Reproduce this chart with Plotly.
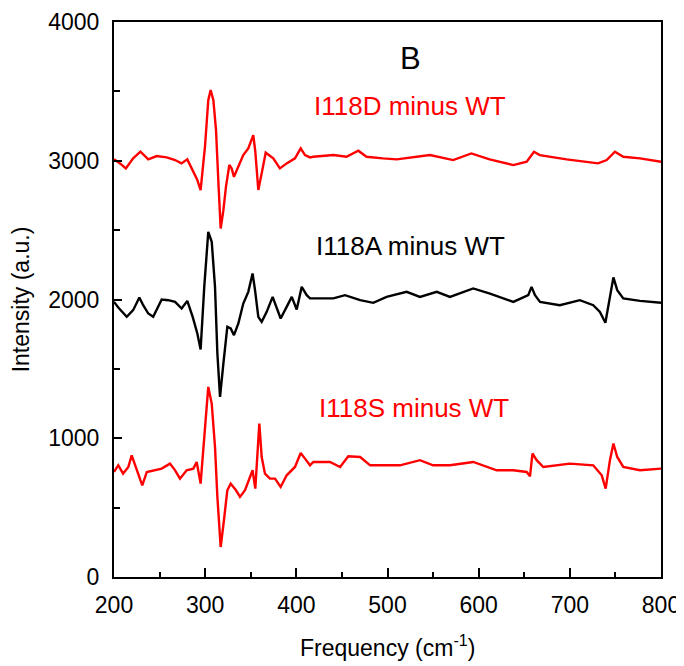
import plotly.graph_objects as go

# I118D minus WT (red, top)
freq_d = [200, 206.6, 213, 221, 229, 237.6, 246.8, 257.8, 267, 274, 280.4, 286, 291.4, 295,
          299.8, 303.4, 306, 309, 311.9, 314.4, 317, 320, 322.8, 326.5, 329, 331.6, 336.4,
          341.8, 347.3, 352.8, 355, 358.3, 362, 366.4, 374.7, 382, 389.4, 398.5, 404.8, 409.5,
          415, 418.6, 440.6, 455, 468, 477, 495, 510, 546.6, 572, 592, 612, 638, 652.7, 660.7,
          667, 696.5, 731, 740.4, 749.5, 758.6, 777, 800]
int_d = [3010, 2981, 2945, 3017, 3065, 3010, 3034, 3024, 3005, 2981, 3010, 2933, 2861, 2789,
         3101, 3437, 3510, 3437, 3221, 2861, 2512, 2644, 2812, 2969, 2945, 2884, 2957,
         3041, 3089, 3185, 3065, 2789, 2909, 3058, 3017, 2945, 2981, 3017, 3089, 3041,
         3024, 3029, 3041, 3029, 3072, 3029, 3017, 3010, 3041, 3005, 3053, 3010, 2969, 2993, 3065,
         3041, 3010, 2981, 3005, 3065, 3029, 3017, 2993]

# I118A minus WT (black, middle)
freq_a = [200, 204.7, 214, 221, 227.8, 232, 237.6, 243, 252.3, 259.6, 267, 274.2, 280.4, 286.3,
          291.4, 295, 299, 303.4, 307.2, 310.8, 313.4, 316.3, 320, 324.3, 328, 331.6, 336.4,
          341.8, 347.3, 352, 354.7, 358.3, 362, 367.5, 374, 378.4, 382.8, 389.4, 395, 400.4,
          405.9, 411.4, 415, 418.6, 440.6, 453.4, 470, 484.4, 499, 521, 535.6, 554, 568.5,
          594, 612.4, 638, 654.4, 658, 661.8, 667.3, 689, 711, 725.7, 733, 739, 744, 747.8,
          752, 758.6, 777, 800]
int_a = [1983, 1942, 1875, 1923, 2015, 1959, 1899, 1875, 2000, 1995, 1983, 1935, 1990, 1875,
         1755, 1640, 2091, 2488, 2416, 2091, 1611, 1298, 1539, 1803, 1791, 1743, 1827,
         1971, 2055, 2188, 2067, 1875, 1839, 1911, 2019, 1947, 1863, 1947, 2019, 1928,
         2091, 2031, 2008, 2008, 2008, 2031, 1995, 1976, 2019, 2055, 2019, 2055, 2019,
         2080, 2043, 1983, 2031, 2091, 2031, 1983, 1959, 1995, 1959, 1911, 1832, 2019, 2159,
         2067, 2008, 1990, 1976]

# I118S minus WT (red, bottom)
freq_s = [200, 204.7, 210, 215.7, 219.4, 224.8, 231, 236, 243, 252.3, 261.4, 267, 272.4, 279.7,
          287, 290.7, 295, 299, 303.4, 307.2, 310.8, 313.4, 317, 320.6, 324.3, 328, 333.8,
          338.2, 343.7, 349.2, 352, 355, 357.2, 359.4, 362, 365.6, 371, 376.6, 382.8, 389.4,
          398.5, 404.8, 409.5, 415, 418.6, 436.9, 448, 457, 470, 481, 499, 513.7, 535.6, 550,
          568.5, 594, 619.8, 638, 652.7, 656.3, 659, 663.6, 670.9, 700, 725.7, 735, 739.3,
          744, 747.8, 752, 758.6, 777, 800]
int_s = [757, 805, 745, 793, 877, 781, 661, 757, 769, 781, 817, 769, 709, 769,
         781, 829, 673, 1009, 1370, 1250, 937, 577, 216, 409, 625, 673, 625,
         577, 625, 721, 769, 637, 890, 1106, 865, 745, 709, 709, 649, 733,
         793, 894, 853, 805, 829, 829, 793, 870, 865, 805, 805, 805, 842, 805,
         805, 829, 769, 769, 757, 726, 890, 842, 793, 817, 805, 733, 637,
         842, 962, 865, 793, 769, 781]

labels = ["I118D minus WT", "I118A minus WT", "I118S minus WT"]
label_x = [525, 525, 529]
label_y = [3394, 2384, 1217]
label_colors = ["#ff0000", "#000000", "#ff0000"]

x_ticks = [200, 300, 400, 500, 600, 700, 800]
y_ticks = [0, 1000, 2000, 3000, 4000]
x_title = "Frequency (cm<sup>-1</sup>)"
y_title = "Intensity (a.u.)"

FONT = "Liberation Sans, Arial, sans-serif"

fig = go.Figure()
fig.add_trace(go.Scatter(x=freq_d, y=int_d, mode="lines",
                         line=dict(color="#ff0000", width=2.4), showlegend=False))
fig.add_trace(go.Scatter(x=freq_a, y=int_a, mode="lines",
                         line=dict(color="#000000", width=2.4), showlegend=False))
fig.add_trace(go.Scatter(x=freq_s, y=int_s, mode="lines",
                         line=dict(color="#ff0000", width=2.4), showlegend=False))

for t, x, y, c in zip(labels, label_x, label_y, label_colors):
    fig.add_annotation(x=x, y=y, text=t, showarrow=False,
                       font=dict(family=FONT, size=26, color=c))
fig.add_annotation(x=525, y=3740, text="B", showarrow=False,
                   font=dict(family=FONT, size=31, color="#000000"))

# x-axis title placed as an annotation for exact vertical position
fig.add_annotation(x=0.5, y=0, xref="paper", yref="paper", text=x_title, showarrow=False,
                   xanchor="center", yanchor="middle", yshift=-69,
                   font=dict(family=FONT, size=23, color="black"))

# page body adds an 8px offset, so the figure is sized to fit the 684x666 window
fig.update_layout(
    width=676, height=658,
    margin=dict(l=106, r=23, t=14, b=89),
    paper_bgcolor="white", plot_bgcolor="white",
    font=dict(family=FONT, size=23, color="black"),
    xaxis=dict(range=[200, 800], tickvals=x_ticks, ticks="inside", ticklen=9, tickwidth=2,
               tickcolor="black", showline=True, linewidth=2, linecolor="black", mirror=True,
               showgrid=False, zeroline=False, automargin=False, ticklabelstandoff=6,
               minor=dict(dtick=50, ticks="inside", ticklen=5, tickwidth=2, tickcolor="black"),
               tickfont=dict(size=23)),
    yaxis=dict(range=[0, 4000], tickvals=y_ticks, ticks="inside", ticklen=8, tickwidth=2,
               tickcolor="black", showline=True, linewidth=2, linecolor="black", mirror=True,
               showgrid=False, zeroline=False, automargin=False, ticklabelstandoff=8,
               minor=dict(dtick=500, ticks="inside", ticklen=6, tickwidth=2, tickcolor="black"),
               title=dict(text=y_title, font=dict(size=23)),
               tickfont=dict(size=23)),
)

fig.write_html("out.html")
